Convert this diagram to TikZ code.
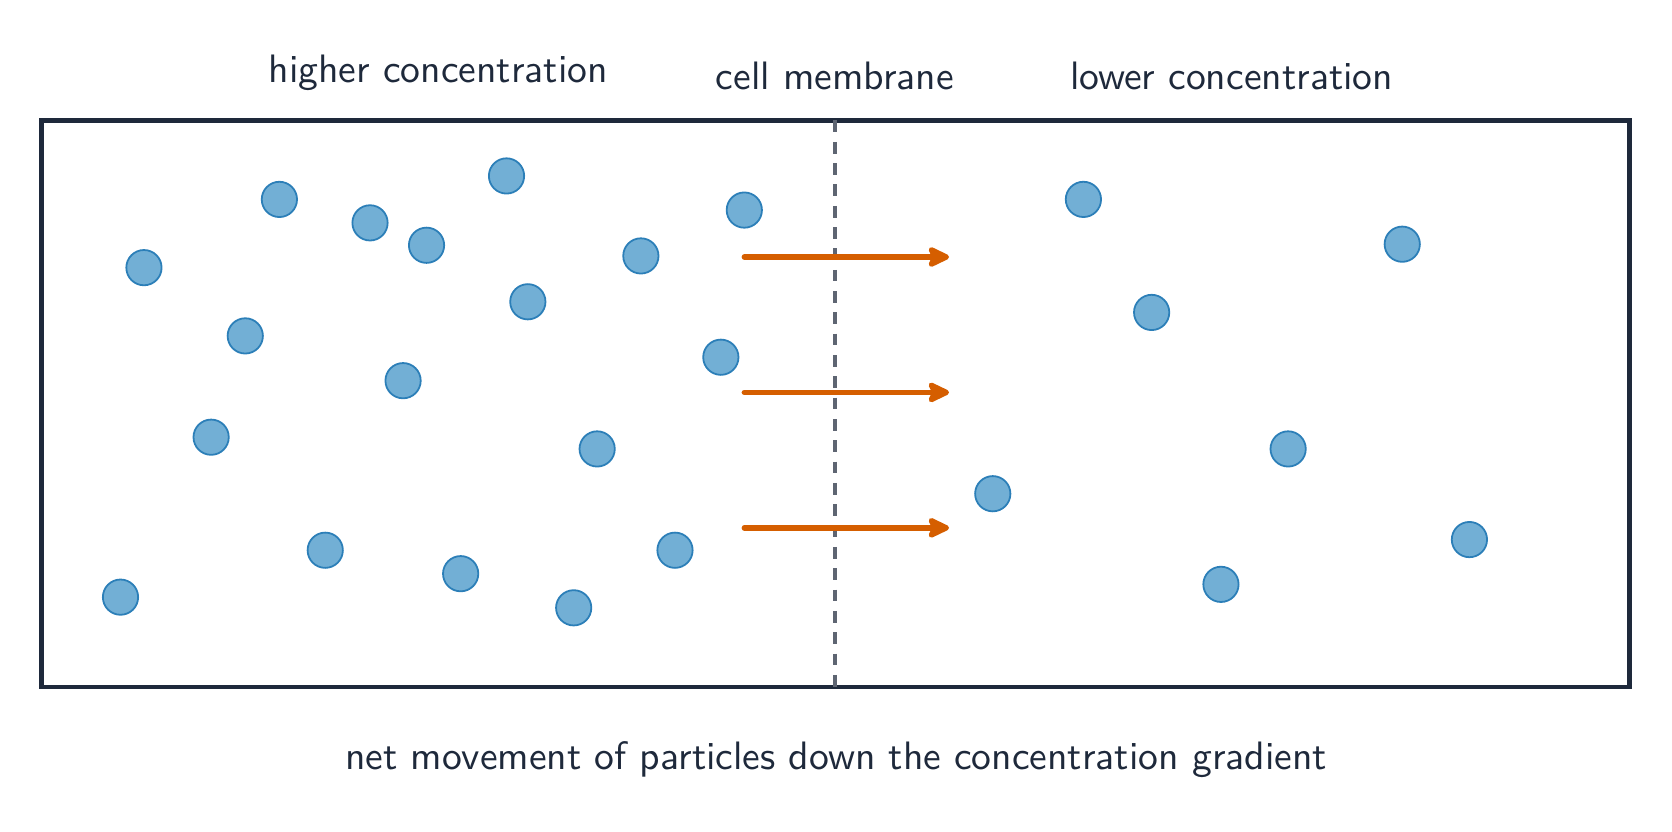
\documentclass[tikz,border=0pt]{standalone}
\usetikzlibrary{arrows.meta}
\definecolor{ink}{HTML}{1E293B}
\definecolor{memb}{HTML}{5E6572}
\definecolor{flowc}{HTML}{D55E00}
\definecolor{pfill}{HTML}{72AFD5}
\definecolor{pdraw}{HTML}{2C7FB8}
\tikzset{
  lbl/.style={font=\sffamily\fontsize{10pt}{12pt}\selectfont, text=ink, anchor=base, inner sep=0pt},
  container/.style={draw=ink, line width=1.1pt, minimum width=1489*0.26905pt, minimum height=531*0.26905pt, inner sep=0pt},
  membrane/.style={draw=memb, line width=0.85pt, dash pattern=on 2.96pt off 2.42pt},
  flow/.style={draw=flowc, line width=1.35pt, line cap=round, -{Stealth[length=6.6pt,width=6.2pt,inset=1.4pt,round]}},
  particle/.style={circle, fill=pfill, draw=pdraw, line width=0.45pt, minimum size=8.9pt, inner sep=0pt}
}
\begin{document}
\begin{tikzpicture}[x=0.26905pt, y=-0.26905pt]
\useasboundingbox (0,0) rectangle (1568,780);
% labels
\node[lbl] (hi) at (411,77) {higher concentration};
\node[lbl] (cm) at (783,83.5) {cell membrane};
\node[lbl] (lo) at (1155,83.5) {lower concentration};
\node[lbl] (net) at (784,722) {net movement of particles down the concentration gradient};
% container
\node[container] (box) at (783.5,378.5) {};
\coordinate (mt) at (783,113);
\coordinate (mb) at (783,644);
\draw[membrane] (mt) -- (mb);
% arrows
\coordinate (a1s) at (698,241); \coordinate (a1e) at (890,241);
\coordinate (a2s) at (698,368); \coordinate (a2e) at (890,368);
\coordinate (a3s) at (698,495); \coordinate (a3e) at (890,495);
\draw[flow] (a1s) -- (a1e);
\draw[flow] (a2s) -- (a2e);
\draw[flow] (a3s) -- (a3e);
% particles left
\node[particle] (p1) at (135,251) {};
\node[particle] (p2) at (262,187) {};
\node[particle] (p3) at (347,209) {};
\node[particle] (p4) at (400,230) {};
\node[particle] (p5) at (475,165) {};
\node[particle] (p6) at (601,240) {};
\node[particle] (p7) at (698,197) {};
\node[particle] (p8) at (495,283) {};
\node[particle] (p9) at (230,315) {};
\node[particle] (p10) at (378,357) {};
\node[particle] (p11) at (676,335) {};
\node[particle] (p12) at (198,410) {};
\node[particle] (p13) at (560,421) {};
\node[particle] (p14) at (113,560) {};
\node[particle] (p15) at (305,516) {};
\node[particle] (p16) at (432,538) {};
\node[particle] (p17) at (538,570) {};
\node[particle] (p18) at (633,516) {};
% particles right
\node[particle] (p19) at (1016,187) {};
\node[particle] (p20) at (1315,229) {};
\node[particle] (p21) at (1080,293) {};
\node[particle] (p22) at (1208,421) {};
\node[particle] (p23) at (931,463) {};
\node[particle] (p24) at (1378,506) {};
\node[particle] (p25) at (1145,548) {};
\end{tikzpicture}
\end{document}
